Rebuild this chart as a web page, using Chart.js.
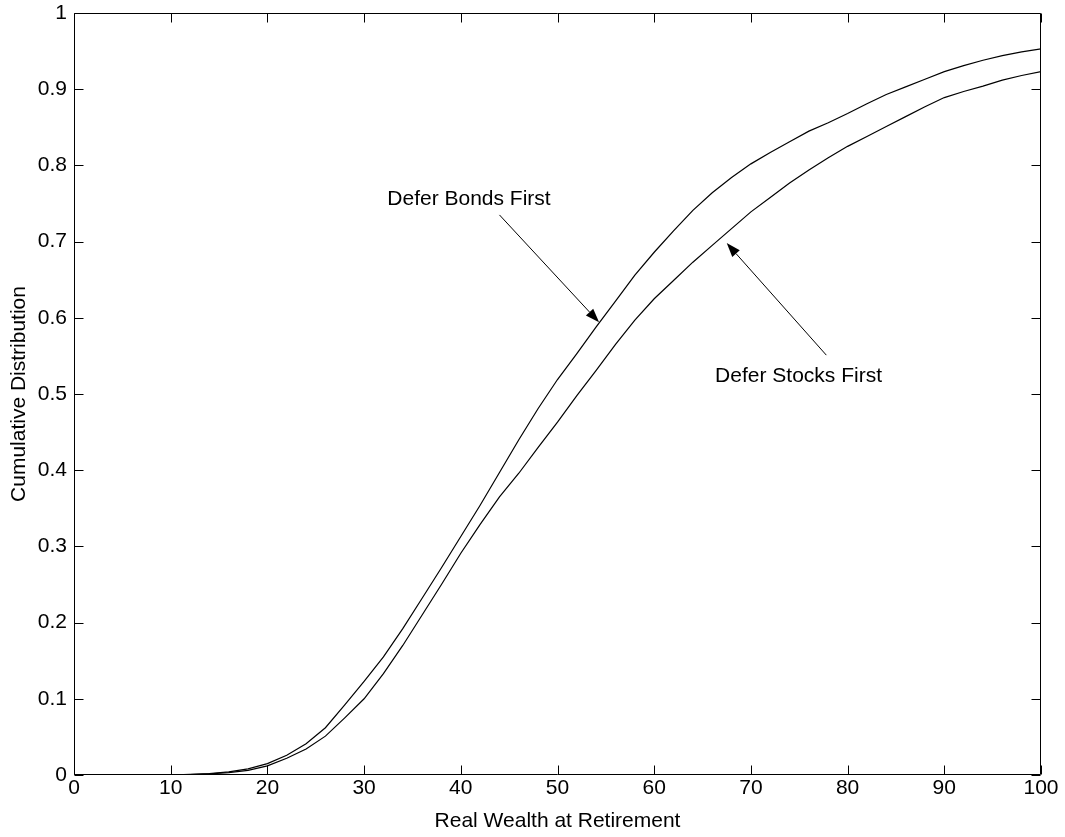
<!DOCTYPE html>
<html>
<head>
<meta charset="utf-8">
<script src="https://cdn.jsdelivr.net/npm/chart.js@4/dist/chart.umd.min.js"></script>
<style>
  html, body { margin: 0; padding: 0; background: #ffffff; }
  #wrap { width: 1065px; height: 837px; position: relative; }
</style>
</head>
<body>
<div id="wrap"><canvas id="c" width="1065" height="837"></canvas></div>
<script>
// ---- data ----
const wealth = [0, 10, 12, 14, 16, 18, 20, 22, 24, 26, 28, 30, 32, 34, 36, 38, 40, 42, 44, 46, 48, 50,
  52, 54, 56, 58, 60, 62, 64, 66, 68, 70, 72, 74, 76, 78, 80, 82, 84, 86, 88, 90, 92, 94, 96, 98, 100];
const deferBondsFirst = [0, 0, 0.001, 0.002, 0.004, 0.008, 0.015, 0.026, 0.041, 0.062, 0.092, 0.123,
  0.155, 0.192, 0.232, 0.272, 0.313, 0.354, 0.397, 0.440, 0.481, 0.519, 0.553, 0.588, 0.622, 0.656,
  0.686, 0.714, 0.741, 0.764, 0.784, 0.802, 0.817, 0.831, 0.845, 0.856, 0.868, 0.881, 0.893, 0.903,
  0.913, 0.923, 0.931, 0.938, 0.944, 0.949, 0.953];
const deferStocksFirst = [0, 0, 0.0005, 0.0015, 0.003, 0.006, 0.012, 0.022, 0.034, 0.051, 0.075, 0.100,
  0.133, 0.170, 0.210, 0.250, 0.291, 0.329, 0.365, 0.396, 0.430, 0.463, 0.498, 0.531, 0.565, 0.597,
  0.625, 0.649, 0.673, 0.695, 0.717, 0.739, 0.758, 0.777, 0.794, 0.810, 0.825, 0.838, 0.851, 0.864,
  0.877, 0.889, 0.897, 0.904, 0.912, 0.918, 0.923];
const xTickValues = [0, 10, 20, 30, 40, 50, 60, 70, 80, 90, 100];
const yTickValues = [0, 0.1, 0.2, 0.3, 0.4, 0.5, 0.6, 0.7, 0.8, 0.9, 1];
const yTickLabels = ['0', '0.1', '0.2', '0.3', '0.4', '0.5', '0.6', '0.7', '0.8', '0.9', '1'];
const xTitle = 'Real Wealth at Retirement';
const yTitle = 'Cumulative Distribution';
const annotationTexts = ['Defer Bonds First', 'Defer Stocks First'];

// annotation placement (data coordinates)
const annotations = [
  { text: annotationTexts[0], tx: 32.4, ty: 0.755, from: [44.0, 0.735], to: [54.3, 0.594] },
  { text: annotationTexts[1], tx: 66.3, ty: 0.524, from: [77.8, 0.551], to: [67.5, 0.698] }
];

const FONT = '"Liberation Sans", Arial, Helvetica, sans-serif';

function pts(ys) { return wealth.map((x, i) => ({ x: x, y: ys[i] })); }

const framePlugin = {
  id: 'frame',
  afterDatasetsDraw(chart) {
    const ctx = chart.ctx;
    const a = chart.chartArea;
    const xs = chart.scales.x, ys = chart.scales.y;
    ctx.save();
    ctx.strokeStyle = '#000';
    ctx.lineWidth = 1;
    const L = Math.round(a.left) + 0.5, R = Math.round(a.right) - 0.5;
    const T = Math.round(a.top) + 0.5, B = Math.round(a.bottom) - 0.5;
    ctx.beginPath();
    ctx.rect(L, T, R - L, B - T);
    ctx.stroke();
    const tl = 9;
    ctx.beginPath();
    xTickValues.forEach(v => {
      const px = Math.round(xs.getPixelForValue(v)) + 0.5;
      ctx.moveTo(px, B); ctx.lineTo(px, B - tl);
      ctx.moveTo(px, T); ctx.lineTo(px, T + tl);
    });
    yTickValues.forEach(v => {
      const py = Math.round(ys.getPixelForValue(v)) + 0.5;
      ctx.moveTo(L, py); ctx.lineTo(L + tl, py);
      ctx.moveTo(R, py); ctx.lineTo(R - tl, py);
    });
    ctx.stroke();

    // annotations
    ctx.fillStyle = '#000';
    ctx.font = '21px ' + FONT;
    ctx.textBaseline = 'middle';
    ctx.textAlign = 'left';
    annotations.forEach(an => {
      ctx.fillText(an.text, xs.getPixelForValue(an.tx), ys.getPixelForValue(an.ty));
      const x0 = xs.getPixelForValue(an.from[0]), y0 = ys.getPixelForValue(an.from[1]);
      const x1 = xs.getPixelForValue(an.to[0]), y1 = ys.getPixelForValue(an.to[1]);
      const ang = Math.atan2(y1 - y0, x1 - x0);
      const hl = 14, hw = 5;
      const bx = x1 - hl * Math.cos(ang), by = y1 - hl * Math.sin(ang);
      ctx.beginPath();
      ctx.lineWidth = 1;
      ctx.moveTo(x0, y0); ctx.lineTo(bx, by);
      ctx.stroke();
      ctx.beginPath();
      ctx.moveTo(x1, y1);
      ctx.lineTo(bx + hw * Math.sin(ang), by - hw * Math.cos(ang));
      ctx.lineTo(bx - hw * Math.sin(ang), by + hw * Math.cos(ang));
      ctx.closePath();
      ctx.fill();
    });
    ctx.restore();
  }
};

new Chart(document.getElementById('c'), {
  type: 'line',
  data: {
    datasets: [
      { label: annotationTexts[0], data: pts(deferBondsFirst), borderColor: '#000', borderWidth: 1.2,
        pointRadius: 0, tension: 0, fill: false },
      { label: annotationTexts[1], data: pts(deferStocksFirst), borderColor: '#000', borderWidth: 1.2,
        pointRadius: 0, tension: 0, fill: false }
    ]
  },
  options: {
    responsive: false,
    animation: false,
    events: [],
    layout: { padding: { top: 13, right: 24, left: 0, bottom: 0 } },
    plugins: { legend: { display: false }, tooltip: { enabled: false } },
    scales: {
      x: {
        type: 'linear', min: 0, max: 100,
        afterBuildTicks: s => { s.ticks = xTickValues.map(v => ({ value: v })); },
        afterFit: s => { s.height = 62; s.paddingLeft = 0; s.paddingRight = 0; },
        grid: { display: false, drawTicks: false },
        border: { display: false },
        ticks: { color: '#000', font: { family: FONT, size: 21 }, padding: 1, maxRotation: 0,
          callback: v => String(v) },
        title: { display: true, text: xTitle, color: '#000', font: { family: FONT, size: 21 },
          padding: { top: 0, bottom: 3 } }
      },
      y: {
        type: 'linear', min: 0, max: 1,
        afterBuildTicks: s => { s.ticks = yTickValues.map(v => ({ value: v })); },
        afterFit: s => { s.width = 74; s.paddingTop = 0; s.paddingBottom = 0; },
        grid: { display: false, drawTicks: false },
        border: { display: false },
        ticks: { color: '#000', font: { family: FONT, size: 21 }, padding: 7,
          callback: v => { const i = yTickValues.findIndex(t => Math.abs(t - v) < 1e-9); return i >= 0 ? yTickLabels[i] : ''; } },
        title: { display: true, text: yTitle, color: '#000', font: { family: FONT, size: 21 },
          padding: { top: 7, bottom: 0 } }
      }
    }
  },
  plugins: [framePlugin]
});
</script>
</body>
</html>
